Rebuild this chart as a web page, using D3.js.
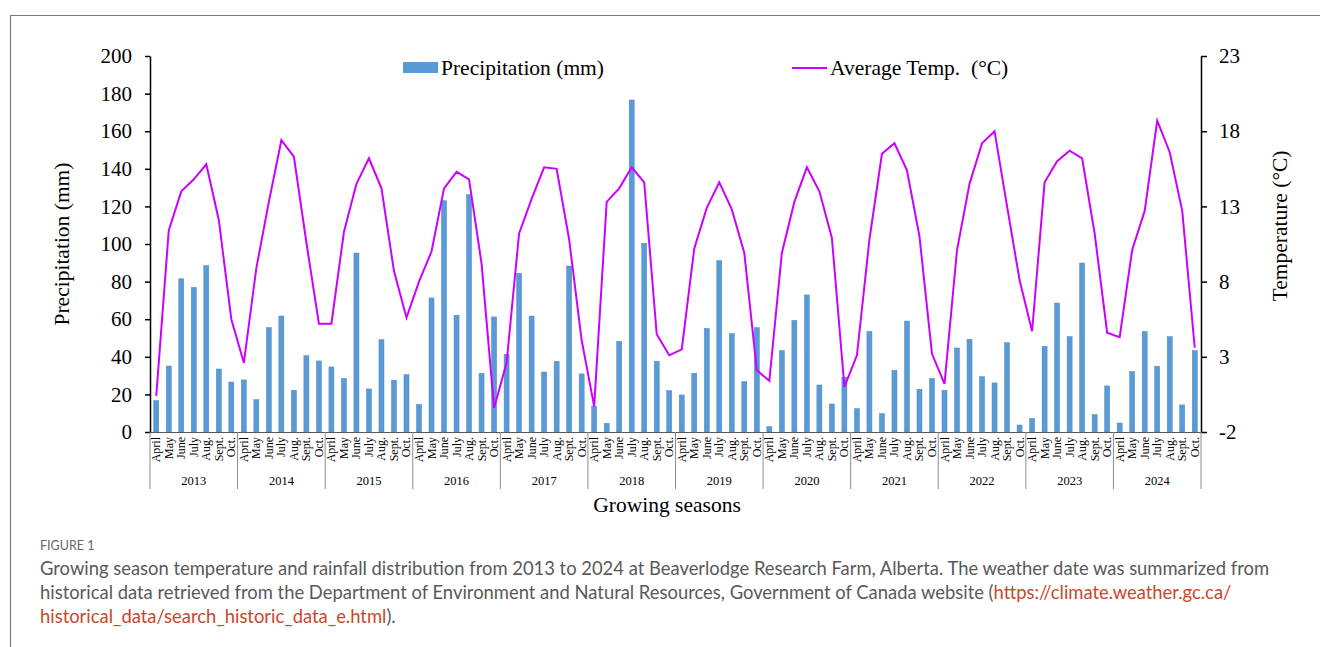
<!DOCTYPE html>
<html><head><meta charset="utf-8">
<script src="https://cdn.jsdelivr.net/npm/d3@7"></script>
<style>
body{margin:0;background:#fff;}
svg{display:block;}
</style></head>
<body>
<svg id="chart" width="1320" height="647"></svg>
<script>
const years = ["2013","2014","2015","2016","2017","2018","2019","2020","2021","2022","2023","2024"];
const months = ["April","May","June","July","Aug.","Sept.","Oct."];
const precipitation = [
  16.7, 35.1, 81.5, 76.9, 88.5, 33.5, 26.6,
  27.7, 17.2, 55.5, 61.7, 22.2, 40.6, 37.8,
  34.6, 28.4, 95.2, 22.9, 49.1, 27.5, 30.5,
  14.7, 71.3, 123.0, 62.1, 126.2, 31.2, 61.2,
  41.3, 84.4, 61.7, 31.9, 37.6, 88.3, 30.9,
  13.8, 4.6, 48.2, 176.6, 100.4, 37.6, 22.0,
  19.7, 31.2, 55.1, 91.1, 52.3, 26.8, 55.5,
  2.8, 43.3, 59.4, 72.9, 25.0, 14.9, 29.0,
  12.4, 53.5, 9.8, 32.8, 59.0, 22.7, 28.4,
  22.2, 44.7, 49.3, 29.4, 26.1, 47.5, 3.7,
  7.1, 45.6, 68.6, 50.7, 89.9, 9.2, 24.5,
  4.8, 32.1, 53.5, 34.9, 50.7, 14.4, 43.3
];
const temperature = [
  0.4, 11.4, 14.0, 14.8, 15.8, 12.1, 5.5,
  2.6, 8.9, 13.3, 17.4, 16.3, 10.6, 5.2,
  5.2, 11.3, 14.5, 16.2, 14.2, 8.7, 5.6,
  8.0, 10.0, 14.2, 15.3, 14.8, 9.2, -0.4,
  2.6, 11.2, 13.5, 15.6, 15.5, 10.8, 4.1,
  -0.3, 13.3, 14.2, 15.6, 14.6, 4.5, 3.1,
  3.5, 10.2, 12.9, 14.6, 12.8, 9.9, 2.1,
  1.4, 9.9, 13.3, 15.6, 14.0, 10.9, 1.0,
  3.1, 10.8, 16.5, 17.2, 15.4, 11.0, 3.2,
  1.2, 10.1, 14.5, 17.2, 18.0, 13.0, 8.1,
  4.7, 14.6, 16.0, 16.7, 16.2, 11.2, 4.6,
  4.3, 10.1, 12.7, 18.7, 16.6, 12.7, 3.6
];
const leftTicks = [0,20,40,60,80,100,120,140,160,180,200];
const rightTicks = [-2,3,8,13,18,23];

const data = [];
years.forEach((y, yi) => months.forEach((m, mi) => {
  const i = yi * months.length + mi;
  data.push({key: y + "-" + m, year: y, month: m, p: precipitation[i], t: temperature[i]});
}));

const svg = d3.select("#chart");
const serif = "'Liberation Serif','Times New Roman',serif";
const L = 150, R = 1201, T = 56, B = 432;

// figure frame
svg.append("line").attr("x1", 10).attr("x2", 1320).attr("y1", 15.5).attr("y2", 15.5).attr("stroke", "#7a7a7a").attr("stroke-width", 1.2);
svg.append("line").attr("x1", 10.5).attr("x2", 10.5).attr("y1", 15).attr("y2", 647).attr("stroke", "#7a7a7a").attr("stroke-width", 1.2);

const x = d3.scaleBand().domain(data.map(d => d.key)).range([L, R]).paddingInner(0.6).paddingOuter(0.3);
const yP = d3.scaleLinear().domain([0, 200]).range([B, T]);
const yT = d3.scaleLinear().domain([-2, 23]).range([B, T]);
const step = x.step();

// bars
svg.append("g").selectAll("rect").data(data).join("rect")
  .attr("x", d => x(d.key)).attr("width", x.bandwidth())
  .attr("y", d => yP(d.p)).attr("height", d => yP(0) - yP(d.p))
  .attr("fill", "#5b9bd5").attr("stroke", "#4a88c2").attr("stroke-width", 0.5);

// line
const line = d3.line().x(d => x(d.key) + x.bandwidth() / 2).y(d => yT(d.t));
svg.append("path").datum(data).attr("d", line).attr("fill", "none")
  .attr("stroke", "#cc00ff").attr("stroke-width", 2).attr("stroke-linejoin", "miter");

// bottom axis line
svg.append("line").attr("x1", L).attr("x2", R).attr("y1", B + 0.5).attr("y2", B + 0.5).attr("stroke", "#595959").attr("stroke-width", 1);

// left axis
const gL = svg.append("g").attr("transform", `translate(${L},0)`)
  .call(d3.axisLeft(yP).tickValues(leftTicks).tickFormat(d => String(d)).tickSize(5).tickPadding(13).tickSizeOuter(0));
gL.attr("font-family", null).attr("font-size", null);
gL.select(".domain").attr("stroke", "#000").attr("stroke-width", 1.5);
gL.selectAll(".tick line").attr("stroke", "#000").attr("stroke-width", 1.5);
gL.selectAll("text").style("font-family", serif).style("font-size", "21px").attr("fill", "#000");

// right axis
const gR = svg.append("g").attr("transform", `translate(${R},0)`)
  .call(d3.axisRight(yT).tickValues(rightTicks).tickFormat(d => String(d)).tickSize(6).tickPadding(12).tickSizeOuter(0));
gR.attr("font-family", null).attr("font-size", null);
gR.select(".domain").attr("stroke", "#000").attr("stroke-width", 1.5);
gR.selectAll(".tick line").attr("stroke", "#000").attr("stroke-width", 1.5);
gR.selectAll("text").style("font-family", serif).style("font-size", "21px").attr("fill", "#000");

// month labels
svg.append("g").selectAll("text").data(data).join("text")
  .attr("transform", d => `translate(${x(d.key) + x.bandwidth() / 2 + 4},${B + 5}) rotate(-90)`)
  .attr("text-anchor", "end").attr("font-family", serif).attr("font-size", 12).attr("fill", "#000")
  .text(d => d.month);

// group separators
const sepX = d3.range(years.length + 1).map(k => L + k * months.length * step);
svg.append("g").selectAll("line").data(sepX).join("line")
  .attr("x1", d => d).attr("x2", d => d).attr("y1", B).attr("y2", 489)
  .attr("stroke", "#8c8c8c").attr("stroke-width", 1);

// year labels
svg.append("g").selectAll("text").data(years).join("text")
  .attr("x", (d, i) => L + (i + 0.5) * months.length * step).attr("y", 485)
  .attr("text-anchor", "middle").attr("font-family", serif).attr("font-size", 12.5).attr("fill", "#000")
  .text(d => d);

// axis titles
svg.append("text").attr("x", 667).attr("y", 512).attr("text-anchor", "middle")
  .attr("font-family", serif).attr("font-size", 21.5).text("Growing seasons");
svg.append("text").attr("transform", "translate(69,244) rotate(-90)").attr("text-anchor", "middle")
  .attr("font-family", serif).attr("font-size", 21.5).text("Precipitation (mm)");
svg.append("text").attr("transform", "translate(1287,226) rotate(-90)").attr("text-anchor", "middle")
  .attr("font-family", serif).attr("font-size", 21.5).text("Temperature (°C)");

// legend
svg.append("rect").attr("x", 403).attr("y", 62).attr("width", 35).attr("height", 11).attr("fill", "#5b9bd5");
svg.append("text").attr("x", 441).attr("y", 75).attr("font-family", serif).attr("font-size", 21.5).text("Precipitation (mm)");
svg.append("line").attr("x1", 792).attr("x2", 827).attr("y1", 68).attr("y2", 68).attr("stroke", "#cc00ff").attr("stroke-width", 2);
svg.append("text").attr("x", 830).attr("y", 75).attr("font-family", serif).attr("font-size", 21.5).attr("xml:space", "preserve").text("Average Temp.  (°C)");

// caption
const sans = "Lato,'Open Sans',sans-serif";
svg.append("text").attr("x", 40).attr("y", 550).attr("font-family", sans).attr("font-size", 12.5).attr("fill", "#666").text("FIGURE 1");
const cap = svg.append("g").attr("font-family", sans).attr("font-size", 18.4).attr("fill", "#595959");
cap.append("text").attr("x", 40).attr("y", 575).text("Growing season temperature and rainfall distribution from 2013 to 2024 at Beaverlodge Research Farm, Alberta. The weather date was summarized from");
const l2 = cap.append("text").attr("x", 40).attr("y", 599);
l2.append("tspan").text("historical data retrieved from the Department of Environment and Natural Resources, Government of Canada website (");
l2.append("tspan").attr("fill", "#c8472b").text("https://climate.weather.gc.ca/");
const l3 = cap.append("text").attr("x", 40).attr("y", 623);
l3.append("tspan").attr("fill", "#c8472b").text("historical_data/search_historic_data_e.html");
l3.append("tspan").text(").");
</script>
</body></html>
